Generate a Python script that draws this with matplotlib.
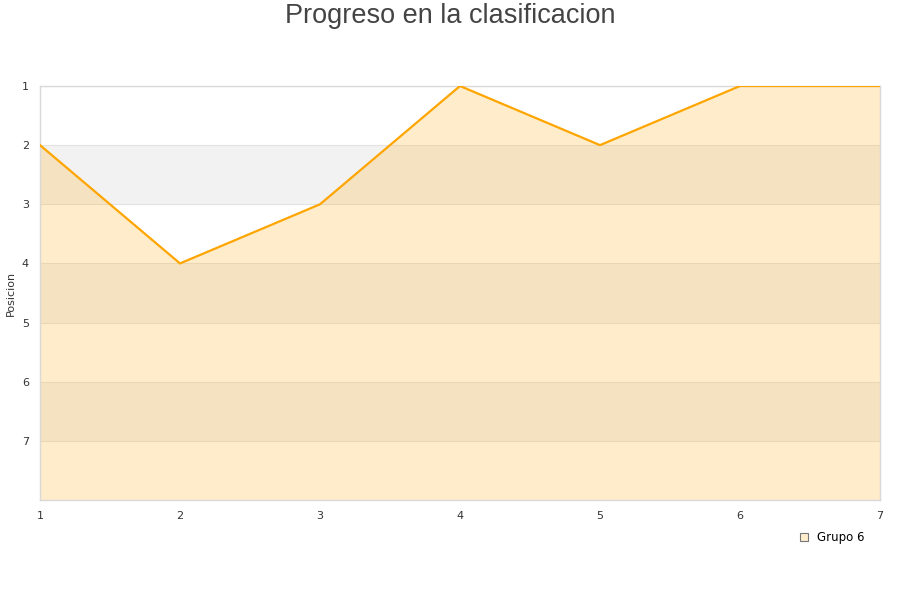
import numpy as np
import matplotlib.pyplot as plt
from matplotlib.lines import Line2D

jornadas = [1, 2, 3, 4, 5, 6, 7]
posicion = [2, 4, 3, 1, 2, 1, 1]
grupo = 'Grupo 6'

fig = plt.figure(figsize=(9, 6), dpi=100)
ax = fig.add_axes([40 / 900, 1 - 500 / 600, 840 / 900, 414 / 600])

# alternating bands
for k in [2, 4, 6]:
    ax.axhspan(k, k + 1, color='#f2f2f2', zorder=0, lw=0)
for k in range(1, 8):
    ax.axhline(k, color='#e2e2e2', lw=0.8, zorder=1)

ax.fill_between(jornadas, posicion, 8, color=(1.0, 177 / 255, 33 / 255), alpha=0.23, lw=0, zorder=2)
ax.plot(jornadas, posicion, color='#ffa500', lw=1.6, zorder=3)

ax.set_xlim(1, 7)
ax.set_ylim(8, 1)
ax.set_xticks(jornadas)
ax.set_yticks(range(1, 8))
ax.tick_params(length=0, labelsize=8, labelcolor='#333333', pad=8)
for s in ax.spines.values():
    s.set_color('#d9d9d9')
    s.set_linewidth(1)
fig.text(11 / 900, 1 - 293 / 600, 'Posicion', rotation=90, ha='center', va='center',
         fontsize=8, color='#333333')

fig.text(0.5, 1 - 16 / 600, 'Progreso en la clasificacion', ha='center', va='center',
         fontsize=19.5, color='#444444', family='Liberation Sans')

h = Line2D([], [], marker='s', ls='', markersize=6, markerfacecolor='#ffedcc',
           markeredgecolor='#777777', markeredgewidth=0.8)
fig.legend([h], [grupo], loc='center', bbox_to_anchor=(831 / 900, 1 - 538 / 600),
           frameon=False, fontsize=8.5, handletextpad=0.6, handlelength=1)

fig.savefig('out.png', dpi=100)
